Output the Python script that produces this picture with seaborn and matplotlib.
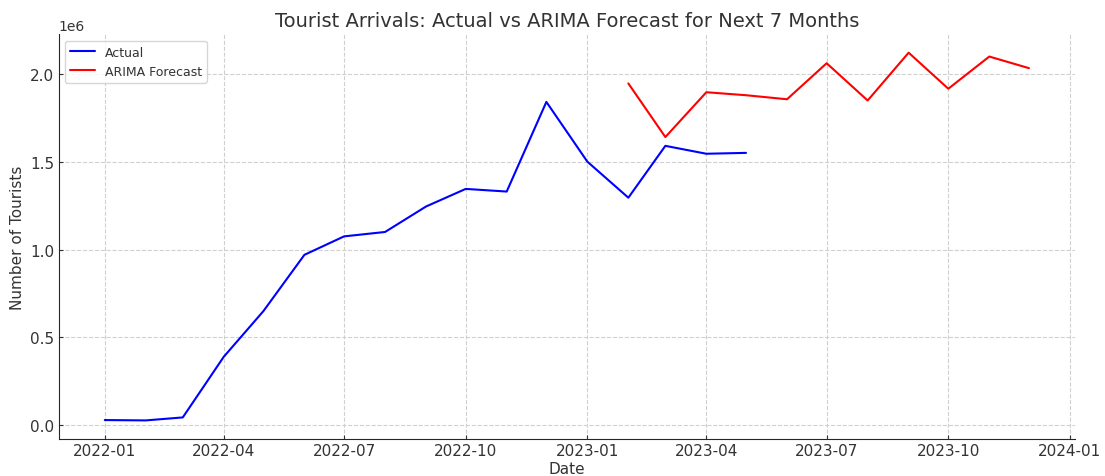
import pandas as pd
import numpy as np
import matplotlib.pyplot as plt
import seaborn as sns

sns.set_style('ticks')
plt.rcParams['font.family'] = ['DejaVu Sans']

actual_dates = pd.date_range('2022-01-01', '2023-05-01', freq='MS')
actual_values = [0.030, 0.028, 0.045, 0.390, 0.650, 0.970, 1.075, 1.100, 1.245,
                 1.345, 1.330, 1.840, 1.500, 1.295, 1.590, 1.545, 1.550]

forecast_dates = pd.date_range('2023-02-01', '2023-12-01', freq='MS')
forecast_values = [1.945, 1.640, 1.895, 1.878, 1.855, 2.060, 1.848, 2.120,
                   1.915, 2.098, 2.032]

actual = pd.DataFrame({'Date': actual_dates, 'Tourists': np.array(actual_values) * 1e6})
forecast = pd.DataFrame({'Date': forecast_dates, 'Tourists': np.array(forecast_values) * 1e6})

text_color = '#333333'
plt.rcParams['text.color'] = text_color
plt.rcParams['axes.labelcolor'] = text_color
plt.rcParams['xtick.color'] = text_color
plt.rcParams['ytick.color'] = text_color

fig, ax = plt.subplots(figsize=(11.05, 4.77), dpi=100)
sns.lineplot(data=actual, x='Date', y='Tourists', color='blue', label='Actual', ax=ax, linewidth=1.5)
sns.lineplot(data=forecast, x='Date', y='Tourists', color='red', label='ARIMA Forecast', ax=ax, linewidth=1.5)

ax.set_title('Tourist Arrivals: Actual vs ARIMA Forecast for Next 7 Months', fontsize=14, color=text_color)
ax.set_xlabel('Date', fontsize=11, labelpad=2)
ax.set_ylabel('Number of Tourists', fontsize=11, labelpad=4)
ax.grid(True, linestyle='--', color='#d0d0d0', linewidth=0.8)
ax.tick_params(labelsize=11, direction='in', length=3, pad=3)
sns.despine(ax=ax)
ax.legend(loc='upper left', fontsize=9)

plt.subplots_adjust(left=0.053, right=0.973, top=0.926, bottom=0.078)
plt.savefig('out.png')
